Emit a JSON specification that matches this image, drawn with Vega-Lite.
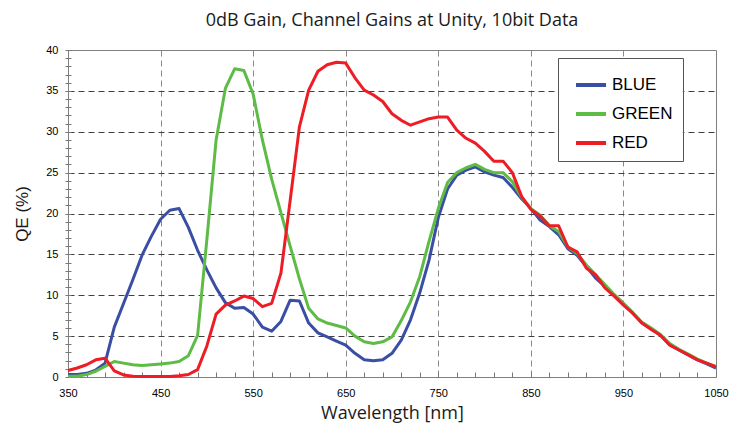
{
  "$schema": "https://vega.github.io/schema/vega-lite/v6.json",
  "width": 648,
  "height": 327,
  "autosize": "none",
  "padding": {"left": 68, "top": 50, "right": 27, "bottom": 49},
  "background": "white",
  "title": {"text": "0dB Gain, Channel Gains at Unity, 10bit Data", "font": "Open Sans", "fontSize": 18, "fontWeight": "normal", "color": "#1a1a1a", "anchor": "middle", "offset": 14},
  "data": {"values": [
    {"w":350,"c":"BLUE","qe":0.3},{"w":360,"c":"BLUE","qe":0.3},{"w":370,"c":"BLUE","qe":0.45},{"w":380,"c":"BLUE","qe":0.85},{"w":390,"c":"BLUE","qe":1.7},{"w":400,"c":"BLUE","qe":6.1},{"w":410,"c":"BLUE","qe":9.0},{"w":420,"c":"BLUE","qe":11.9},{"w":430,"c":"BLUE","qe":14.9},{"w":440,"c":"BLUE","qe":17.2},{"w":450,"c":"BLUE","qe":19.3},{"w":460,"c":"BLUE","qe":20.4},{"w":470,"c":"BLUE","qe":20.6},{"w":480,"c":"BLUE","qe":18.3},{"w":490,"c":"BLUE","qe":15.5},{"w":500,"c":"BLUE","qe":13.1},{"w":510,"c":"BLUE","qe":10.9},{"w":520,"c":"BLUE","qe":9.1},{"w":530,"c":"BLUE","qe":8.4},{"w":540,"c":"BLUE","qe":8.5},{"w":550,"c":"BLUE","qe":7.7},{"w":560,"c":"BLUE","qe":6.1},{"w":570,"c":"BLUE","qe":5.6},{"w":580,"c":"BLUE","qe":6.8},{"w":590,"c":"BLUE","qe":9.4},{"w":600,"c":"BLUE","qe":9.3},{"w":610,"c":"BLUE","qe":6.6},{"w":620,"c":"BLUE","qe":5.4},{"w":630,"c":"BLUE","qe":4.9},{"w":640,"c":"BLUE","qe":4.4},{"w":650,"c":"BLUE","qe":3.9},{"w":660,"c":"BLUE","qe":2.9},{"w":670,"c":"BLUE","qe":2.1},{"w":680,"c":"BLUE","qe":2.0},{"w":690,"c":"BLUE","qe":2.1},{"w":700,"c":"BLUE","qe":2.9},{"w":710,"c":"BLUE","qe":4.5},{"w":720,"c":"BLUE","qe":7.0},{"w":730,"c":"BLUE","qe":10.3},{"w":740,"c":"BLUE","qe":14.3},{"w":750,"c":"BLUE","qe":19.5},{"w":760,"c":"BLUE","qe":23.0},{"w":770,"c":"BLUE","qe":24.7},{"w":780,"c":"BLUE","qe":25.3},{"w":790,"c":"BLUE","qe":25.7},{"w":800,"c":"BLUE","qe":25.1},{"w":810,"c":"BLUE","qe":24.7},{"w":820,"c":"BLUE","qe":24.4},{"w":830,"c":"BLUE","qe":23.2},{"w":840,"c":"BLUE","qe":21.8},{"w":850,"c":"BLUE","qe":20.6},{"w":860,"c":"BLUE","qe":19.2},{"w":870,"c":"BLUE","qe":18.4},{"w":880,"c":"BLUE","qe":17.4},{"w":890,"c":"BLUE","qe":15.7},{"w":900,"c":"BLUE","qe":14.9},{"w":910,"c":"BLUE","qe":13.5},{"w":920,"c":"BLUE","qe":12.1},{"w":930,"c":"BLUE","qe":11.1},{"w":940,"c":"BLUE","qe":10.0},{"w":950,"c":"BLUE","qe":9.0},{"w":960,"c":"BLUE","qe":7.8},{"w":970,"c":"BLUE","qe":6.6},{"w":980,"c":"BLUE","qe":5.9},{"w":990,"c":"BLUE","qe":5.1},{"w":1000,"c":"BLUE","qe":4.0},{"w":1010,"c":"BLUE","qe":3.3},{"w":1020,"c":"BLUE","qe":2.7},{"w":1030,"c":"BLUE","qe":2.1},{"w":1040,"c":"BLUE","qe":1.6},{"w":1050,"c":"BLUE","qe":1.1},
    {"w":350,"c":"GREEN","qe":0.1},{"w":360,"c":"GREEN","qe":0.1},{"w":370,"c":"GREEN","qe":0.3},{"w":380,"c":"GREEN","qe":0.7},{"w":390,"c":"GREEN","qe":1.3},{"w":400,"c":"GREEN","qe":1.9},{"w":410,"c":"GREEN","qe":1.7},{"w":420,"c":"GREEN","qe":1.5},{"w":430,"c":"GREEN","qe":1.4},{"w":440,"c":"GREEN","qe":1.5},{"w":450,"c":"GREEN","qe":1.6},{"w":460,"c":"GREEN","qe":1.7},{"w":470,"c":"GREEN","qe":1.9},{"w":480,"c":"GREEN","qe":2.6},{"w":490,"c":"GREEN","qe":5.1},{"w":500,"c":"GREEN","qe":16.8},{"w":510,"c":"GREEN","qe":29.0},{"w":520,"c":"GREEN","qe":35.3},{"w":530,"c":"GREEN","qe":37.7},{"w":540,"c":"GREEN","qe":37.5},{"w":550,"c":"GREEN","qe":34.6},{"w":560,"c":"GREEN","qe":29.0},{"w":570,"c":"GREEN","qe":24.2},{"w":580,"c":"GREEN","qe":20.1},{"w":590,"c":"GREEN","qe":16.0},{"w":600,"c":"GREEN","qe":12.0},{"w":610,"c":"GREEN","qe":8.4},{"w":620,"c":"GREEN","qe":7.1},{"w":630,"c":"GREEN","qe":6.6},{"w":640,"c":"GREEN","qe":6.3},{"w":650,"c":"GREEN","qe":6.0},{"w":660,"c":"GREEN","qe":5.0},{"w":670,"c":"GREEN","qe":4.3},{"w":680,"c":"GREEN","qe":4.1},{"w":690,"c":"GREEN","qe":4.3},{"w":700,"c":"GREEN","qe":4.9},{"w":710,"c":"GREEN","qe":6.9},{"w":720,"c":"GREEN","qe":9.2},{"w":730,"c":"GREEN","qe":12.3},{"w":740,"c":"GREEN","qe":16.6},{"w":750,"c":"GREEN","qe":20.6},{"w":760,"c":"GREEN","qe":23.8},{"w":770,"c":"GREEN","qe":25.0},{"w":780,"c":"GREEN","qe":25.6},{"w":790,"c":"GREEN","qe":26.0},{"w":800,"c":"GREEN","qe":25.4},{"w":810,"c":"GREEN","qe":25.0},{"w":820,"c":"GREEN","qe":25.0},{"w":830,"c":"GREEN","qe":23.9},{"w":840,"c":"GREEN","qe":22.0},{"w":850,"c":"GREEN","qe":20.6},{"w":860,"c":"GREEN","qe":19.8},{"w":870,"c":"GREEN","qe":18.5},{"w":880,"c":"GREEN","qe":17.8},{"w":890,"c":"GREEN","qe":15.9},{"w":900,"c":"GREEN","qe":15.1},{"w":910,"c":"GREEN","qe":13.7},{"w":920,"c":"GREEN","qe":12.5},{"w":930,"c":"GREEN","qe":11.3},{"w":940,"c":"GREEN","qe":10.1},{"w":950,"c":"GREEN","qe":9.0},{"w":960,"c":"GREEN","qe":7.9},{"w":970,"c":"GREEN","qe":6.7},{"w":980,"c":"GREEN","qe":6.0},{"w":990,"c":"GREEN","qe":5.2},{"w":1000,"c":"GREEN","qe":4.1},{"w":1010,"c":"GREEN","qe":3.4},{"w":1020,"c":"GREEN","qe":2.8},{"w":1030,"c":"GREEN","qe":2.2},{"w":1040,"c":"GREEN","qe":1.7},{"w":1050,"c":"GREEN","qe":1.3},
    {"w":350,"c":"RED","qe":0.8},{"w":360,"c":"RED","qe":1.1},{"w":370,"c":"RED","qe":1.5},{"w":380,"c":"RED","qe":2.1},{"w":390,"c":"RED","qe":2.3},{"w":400,"c":"RED","qe":0.75},{"w":410,"c":"RED","qe":0.25},{"w":420,"c":"RED","qe":0.1},{"w":430,"c":"RED","qe":0.05},{"w":440,"c":"RED","qe":0.05},{"w":450,"c":"RED","qe":0.05},{"w":460,"c":"RED","qe":0.05},{"w":470,"c":"RED","qe":0.15},{"w":480,"c":"RED","qe":0.3},{"w":490,"c":"RED","qe":0.9},{"w":500,"c":"RED","qe":3.8},{"w":510,"c":"RED","qe":7.7},{"w":520,"c":"RED","qe":8.8},{"w":530,"c":"RED","qe":9.3},{"w":540,"c":"RED","qe":9.9},{"w":550,"c":"RED","qe":9.6},{"w":560,"c":"RED","qe":8.6},{"w":570,"c":"RED","qe":9.0},{"w":580,"c":"RED","qe":12.7},{"w":590,"c":"RED","qe":21.6},{"w":600,"c":"RED","qe":30.6},{"w":610,"c":"RED","qe":35.1},{"w":620,"c":"RED","qe":37.4},{"w":630,"c":"RED","qe":38.2},{"w":640,"c":"RED","qe":38.5},{"w":650,"c":"RED","qe":38.4},{"w":660,"c":"RED","qe":36.6},{"w":670,"c":"RED","qe":35.1},{"w":680,"c":"RED","qe":34.5},{"w":690,"c":"RED","qe":33.7},{"w":700,"c":"RED","qe":32.2},{"w":710,"c":"RED","qe":31.4},{"w":720,"c":"RED","qe":30.8},{"w":730,"c":"RED","qe":31.2},{"w":740,"c":"RED","qe":31.6},{"w":750,"c":"RED","qe":31.8},{"w":760,"c":"RED","qe":31.8},{"w":770,"c":"RED","qe":30.2},{"w":780,"c":"RED","qe":29.2},{"w":790,"c":"RED","qe":28.6},{"w":800,"c":"RED","qe":27.6},{"w":810,"c":"RED","qe":26.4},{"w":820,"c":"RED","qe":26.4},{"w":830,"c":"RED","qe":25.0},{"w":840,"c":"RED","qe":22.1},{"w":850,"c":"RED","qe":20.5},{"w":860,"c":"RED","qe":19.7},{"w":870,"c":"RED","qe":18.5},{"w":880,"c":"RED","qe":18.5},{"w":890,"c":"RED","qe":15.9},{"w":900,"c":"RED","qe":15.3},{"w":910,"c":"RED","qe":13.3},{"w":920,"c":"RED","qe":12.5},{"w":930,"c":"RED","qe":10.9},{"w":940,"c":"RED","qe":9.9},{"w":950,"c":"RED","qe":8.8},{"w":960,"c":"RED","qe":7.8},{"w":970,"c":"RED","qe":6.6},{"w":980,"c":"RED","qe":5.8},{"w":990,"c":"RED","qe":5.1},{"w":1000,"c":"RED","qe":3.9},{"w":1010,"c":"RED","qe":3.3},{"w":1020,"c":"RED","qe":2.7},{"w":1030,"c":"RED","qe":2.1},{"w":1040,"c":"RED","qe":1.7},{"w":1050,"c":"RED","qe":1.25}
  ]},
  "mark": {"type": "line", "strokeWidth": 3, "strokeJoin": "round"},
  "encoding": {
    "x": {
      "field": "w", "type": "quantitative",
      "scale": {"domain": [350, 1050], "nice": false, "zero": false},
      "axis": {
        "title": "Wavelength [nm]", "format": "d",
        "titleFont": "Open Sans", "titleFontSize": 18, "titleFontWeight": "normal", "titleColor": "#1a1a1a", "titlePadding": 6,
        "values": [350,370,390,410,430,450,470,490,510,530,550,570,590,610,630,650,670,690,710,730,750,770,790,810,830,850,870,890,910,930,950,970,990,1010,1030,1050],
        "labelExpr": "datum.value % 100 == 50 ? datum.label : ''",
        "labelFont": "Liberation Sans", "labelFontSize": 11, "labelColor": "black",
        "labelOverlap": false, "labelFlush": false, "labelPadding": 10,
        "domain": false, "offset": -5, "tickSize": 5, "tickColor": "#777", "tickWidth": 1,
        "grid": true, "gridColor": "#8a8a8a", "gridDash": [6, 4], "gridWidth": 1,
        "gridOpacity": {"condition": {"test": "datum.value % 100 == 50 && datum.value > 350 && datum.value < 1050", "value": 1}, "value": 0}
      }
    },
    "y": {
      "field": "qe", "type": "quantitative",
      "scale": {"domain": [0, 40], "nice": false},
      "axis": {
        "title": "QE (%)",
        "titleFont": "Liberation Sans", "titleFontSize": 17, "titleFontWeight": "normal", "titleColor": "#1a1a1a", "titlePadding": 14,
        "values": [0,1,2,3,4,5,6,7,8,9,10,11,12,13,14,15,16,17,18,19,20,21,22,23,24,25,26,27,28,29,30,31,32,33,34,35,36,37,38,39,40],
        "labelExpr": "datum.value % 5 == 0 ? datum.label : ''",
        "labelFont": "Liberation Sans", "labelFontSize": 11, "labelColor": "black",
        "labelOverlap": false, "labelFlush": false, "labelPadding": 7,
        "domain": false, "offset": -3, "tickSize": 6, "tickColor": "#777", "tickWidth": 1,
        "grid": true, "gridColor": "#404040", "gridDash": [6, 4], "gridWidth": 1,
        "gridOpacity": {"condition": {"test": "datum.value % 5 == 0 && datum.value > 0 && datum.value < 40", "value": 1}, "value": 0}
      }
    },
    "color": {
      "field": "c", "type": "nominal",
      "scale": {"domain": ["BLUE", "GREEN", "RED"], "range": ["#3a4ea3", "#5dbb46", "#ee1c25"]},
      "legend": {
        "title": null, "orient": "none", "legendX": 490, "legendY": 8,
        "symbolType": "stroke", "symbolSize": 900, "symbolStrokeWidth": 4, "symbolOffset": 6,
        "labelFont": "Liberation Sans", "labelFontSize": 17, "labelColor": "black", "labelOffset": 4,
        "strokeColor": "#555", "fillColor": "white", "padding": 10, "rowPadding": 4
      }
    }
  },
  "config": {
    "view": {"stroke": "#808080", "strokeWidth": 1}
  }
}
